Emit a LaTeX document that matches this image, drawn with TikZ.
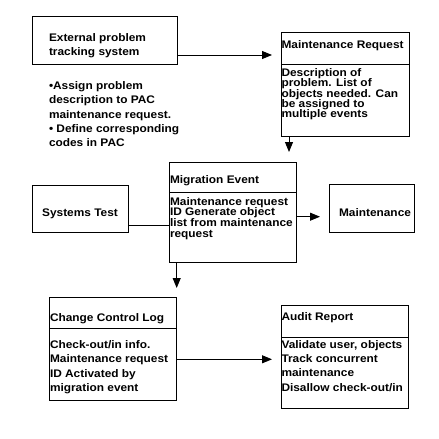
\documentclass[tikz,border=0pt]{standalone}
\usepackage{fontspec}
\setmainfont{Liberation Sans}
\newfontfamily\dfont{Liberation Sans}[FakeStretch=1.08]
\usetikzlibrary{arrows.meta}
\newcommand\mylines[2]{\vtop{\baselineskip=#1\lineskiplimit=-50pt\lineskip=0pt\def\\{\egroup\hbox\bgroup}\hbox\bgroup#2\egroup}}
\begin{document}
\begin{tikzpicture}[x=1pt,y=-1pt,
  box/.style={draw,line width=0.9pt,inner sep=0pt,outer sep=0pt,anchor=north west},
  txt/.style={inner sep=0pt,outer sep=0pt,anchor=base west,font=\dfont\fontsize{11}{13}\selectfont\bfseries},
  divline/.style={line width=0.9pt},
  conn/.style={line width=0.9pt},
  arr/.style={line width=0.9pt,-{Triangle[length=10pt,width=8pt]},shorten >=9pt}]
\fill[white] (0,0) rectangle (439,439);
\useasboundingbox (0,0) rectangle (439,439);

% External problem tracking system
\node[box,minimum width=145pt,minimum height=48pt] (ext) at (32,16) {};
\node[txt] (extT) at (49,41) {\mylines{14.5pt}{External problem\\tracking system}};
\node[txt] (notes) at (49,89.3) {\mylines{14.35pt}{•Assign problem\\description to PAC\\maintenance request.\\• Define corresponding\\codes in PAC}};

% Maintenance Request
\node[box,minimum width=128pt,minimum height=104pt] (mr) at (281,32) {};
\draw[divline] ([yshift=-32pt]mr.north west) -- ([yshift=-32pt]mr.north east);
\node[txt] (mrT) at (281.5,48) {Maintenance Request};
\node[txt] (mrB) at (281.5,76.7) {\mylines{10.25pt}{Description of\\problem. List of\\objects needed. Can\\be assigned to\\multiple events}};

% Migration Event
\node[box,minimum width=127pt,minimum height=100pt] (mig) at (169.5,162) {};
\draw[divline] ([yshift=-30pt]mig.north west) -- ([yshift=-30pt]mig.north east);
\node[txt] (migT) at (170,183.3) {Migration Event};
\node[txt] (migB) at (170,205) {\mylines{10.75pt}{Maintenance request\\ID Generate object\\list from maintenance\\request}};

% Systems Test
\node[box,minimum width=96pt,minimum height=47pt] (st) at (32,185) {};
\node[txt,anchor=base] (stT) at (80,216.7) {Systems Test};

% Maintenance
\node[box,minimum width=85pt,minimum height=48pt] (mnt) at (329,184) {};
\node[txt] (mntT) at (339,216) {Maintenance};

% Change Control Log
\node[box,minimum width=127.4pt,minimum height=103pt] (ccl) at (49.3,297) {};
\draw[divline] ([yshift=-31.7pt]ccl.north west) -- ([yshift=-31.7pt]ccl.north east);
\node[txt] (cclT) at (50,321.7) {Change Control Log};
\node[txt] (cclB) at (50,348.3) {\mylines{14.5pt}{Check-out/in info.\\Maintenance request\\ID Activated by\\migration event}};

% Audit Report
\node[box,minimum width=127pt,minimum height=103pt] (aud) at (281,305) {};
\draw[divline] ([yshift=-32.3pt]aud.north west) -- ([yshift=-32.3pt]aud.north east);
\node[txt] (audT) at (281.5,320.7) {Audit Report};
\node[txt] (audB) at (281.5,348.3) {\mylines{14.25pt}{Validate user, objects\\Track concurrent\\maintenance\\Disallow check-out/in}};

% Connectors
\draw[arr] ([yshift=9pt]ext.south east) coordinate (c1) -- (c1 -| mr.west);
\draw[arr,shorten >=10pt] ([xshift=8pt]mr.south west) coordinate (c2) -- (c2 |- mig.north);
\draw[conn] ([yshift=7pt]st.south east) coordinate (c3) -- (c3 -| mig.west);
\draw[arr] ([yshift=-4.7pt]mig.east) coordinate (c4) -- (c4 -| mnt.west);
\draw[arr] ([xshift=7.2pt]mig.south west) coordinate (c5) -- (c5 |- ccl.north);
\draw[arr] ([yshift=-10.8pt]ccl.east) coordinate (c6) -- (c6 -| aud.west);
\end{tikzpicture}
\end{document}
